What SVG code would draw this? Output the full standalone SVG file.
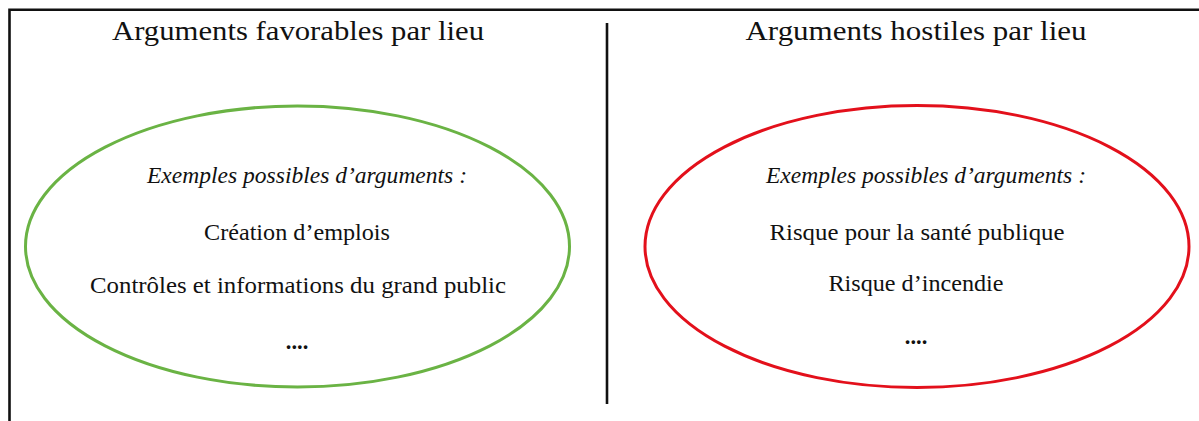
<svg xmlns="http://www.w3.org/2000/svg" width="1199" height="421" viewBox="0 0 1199 421">
<style>
.frame{stroke:#111;stroke-width:2.6;fill:none}
.h{font-family:"Liberation Serif","DejaVu Serif",serif;font-size:27.5px;fill:#111;text-anchor:middle}
.t{font-family:"Liberation Serif","DejaVu Serif",serif;font-size:22.5px;fill:#111;text-anchor:middle}
.i{font-style:italic}
</style>
<rect width="1199" height="421" fill="#fff"/>
<g id="frame">
<path class="frame" d="M9.5 421 V9.8 H1199"/>
<path class="frame" d="M607 23 V404" stroke-width="2.8"/>
</g>
<g id="favorables">
<text class="h" x="298" y="40" textLength="372" lengthAdjust="spacingAndGlyphs">Arguments favorables par lieu</text>
<ellipse cx="297.5" cy="246.5" rx="272" ry="140.5" fill="none" stroke="#6ab344" stroke-width="3"/>
<text class="t i" x="307" y="183" textLength="320" lengthAdjust="spacingAndGlyphs">Exemples possibles d’arguments :</text>
<text class="t" x="297" y="240" textLength="186" lengthAdjust="spacingAndGlyphs">Création d’emplois</text>
<text class="t" x="298" y="293" textLength="416" lengthAdjust="spacingAndGlyphs">Contrôles et informations du grand public</text>
<text class="t" x="297" y="349" font-weight="bold">....</text>
</g>
<g id="hostiles">
<text class="h" x="916" y="40" textLength="341" lengthAdjust="spacingAndGlyphs">Arguments hostiles par lieu</text>
<ellipse cx="917" cy="246.5" rx="272" ry="141" fill="none" stroke="#e3101b" stroke-width="3"/>
<text class="t i" x="926" y="183" textLength="320" lengthAdjust="spacingAndGlyphs">Exemples possibles d’arguments :</text>
<text class="t" x="917" y="240" textLength="295" lengthAdjust="spacingAndGlyphs">Risque pour la santé publique</text>
<text class="t" x="916" y="291" textLength="175" lengthAdjust="spacingAndGlyphs">Risque d’incendie</text>
<text class="t" x="916" y="344" font-weight="bold">....</text>
</g>
</svg>
